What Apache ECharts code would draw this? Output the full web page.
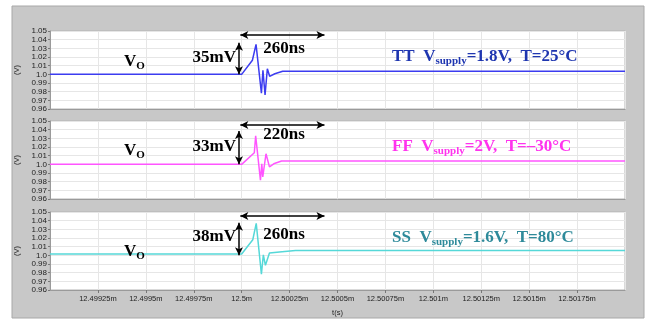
<!DOCTYPE html>
<html>
<head>
<meta charset="utf-8">
<script src="https://cdn.jsdelivr.net/npm/echarts@6/dist/echarts.min.js"></script>
<style>
  html, body { margin: 0; padding: 0; background: #fff; }
  #chart { width: 650px; height: 321px; }
</style>
</head>
<body>
<div id="chart"></div>
<script>
// time in ns relative to 12.5ms, voltage in V
const times1 = [-1000, 0, 56, 75, 103, 111, 122, 134, 146, 173, 214, 2000];
const volts1 = [1.0, 1.0, 1.0163, 1.0345, 0.9782, 1.0047, 0.9763, 1.0065, 0.9977, 1.0007, 1.0035, 1.0035];

const times2 = [-1000, 0, 66, 73, 98, 105, 110, 127, 145, 171, 208, 2000];
const volts2 = [1.0, 1.0, 1.0134, 1.033, 0.9816, 1.0007, 0.9854, 1.0122, 0.997, 1.001, 1.0038, 1.0038];

const times3 = [-1000, 0, 58, 76, 103, 113, 124, 145, 197, 281, 2000];
const volts3 = [1.0015, 1.0015, 1.018, 1.0369, 0.9782, 1.0005, 0.9885, 1.0027, 1.0039, 1.0056, 1.0056];

const cornerNames = ['TT', 'FF', 'SS'];
const supplies = ['1.8V', '2V', '1.6V'];
const temps = ['25°C', '–30°C', '80°C'];
const overshoots = ['35mV', '33mV', '38mV'];
const settleTimes = ['260ns', '220ns', '260ns'];
// arrows: vertical from base to peak, horizontal span (ns)
const arrowLow = [1.0, 1.0, 1.0];
const arrowHigh = [1.0365, 1.0385, 1.0375];
const spanEnd = [432, 432, 432];

const lineColors = ['#3c3cf0', '#ff55ff', '#55d8d8'];
const textColors = ['#1f36b0', '#ff33ee', '#2e8a9a'];

const chart = echarts.init(document.getElementById('chart'));
const serif = '"Times New Roman", "Liberation Serif", serif';
const sans = 'Arial, "Liberation Sans", sans-serif';
const gridTops = [31, 121, 212];
const gridH = 78;

const allTimes = [times1, times2, times3];
const allVolts = [volts1, volts2, volts3];

const fmtTime = v => parseFloat(((12500000 + v) / 1e6).toFixed(6)) + 'm';

const grids = gridTops.map(t => ({
  left: 50, right: 25, top: t, height: gridH,
  show: true, backgroundColor: '#fff', borderColor: '#b4b4b4', borderWidth: 1
}));

const xAxes = gridTops.map((t, i) => ({
  gridIndex: i, type: 'value', min: -1000, max: 2000, interval: 250,
  axisLine: { onZero: false, lineStyle: { color: '#9a9a9a' } },
  axisTick: { show: i === 2, length: 3, lineStyle: { color: '#777' } },
  axisLabel: {
    show: i === 2, fontSize: 7.5, color: '#222', margin: 5, fontFamily: sans,
    showMinLabel: false, showMaxLabel: false, formatter: fmtTime
  },
  splitLine: { show: true, lineStyle: { color: '#e6e6e6' } },
  name: i === 2 ? 't(s)' : '', nameLocation: 'middle', nameGap: 19,
  nameTextStyle: { fontSize: 7.5, color: '#222', fontFamily: sans }
}));

const yAxes = gridTops.map((t, i) => ({
  gridIndex: i, type: 'value', min: 0.96, max: 1.05, interval: 0.01,
  axisLine: { show: true, onZero: false, lineStyle: { color: '#9a9a9a' } },
  axisTick: { show: true, length: 2, lineStyle: { color: '#777' } },
  axisLabel: {
    fontSize: 8, color: '#222', margin: 3, fontFamily: sans,
    formatter: v => Math.abs(v - 1) < 1e-9 ? '1.0' : v.toFixed(2)
  },
  splitLine: { show: true, lineStyle: { color: '#e6e6e6' } },
  name: '(V)', nameLocation: 'middle', nameGap: 24,
  nameTextStyle: { fontSize: 7.5, color: '#222', fontFamily: sans }
}));

const arrowStyle = { color: '#000', width: 1.5, type: 'solid' };

const series = allTimes.map((ts, i) => ({
  type: 'line', xAxisIndex: i, yAxisIndex: i,
  data: ts.map((t, k) => [t, allVolts[i][k]]),
  showSymbol: false, lineStyle: { color: lineColors[i], width: 1.5 },
  itemStyle: { color: lineColors[i] }, animation: false,
  markLine: {
    silent: true, symbol: ['arrow', 'arrow'], symbolSize: [6, 8],
    lineStyle: arrowStyle, label: { show: false },
    data: [
      [{ coord: [-14, arrowLow[i]] }, { coord: [-14, arrowHigh[i]] }],
      [{ coord: [-7, 1.0455] }, { coord: [spanEnd[i], 1.0455] }]
    ]
  }
}));

// text annotations, offsets relative to each panel top
const textCfg = [
  { vo: 30.5, mv: 27, ns: 18, cond: 26 },
  { vo: 29.5, mv: 26, ns: 14, cond: 26 },
  { vo: 40, mv: 25, ns: 23, cond: 26 }
];

const graphic = [{
  type: 'rect', z: -100, silent: true,
  shape: { x: 12, y: 6, width: 632, height: 312 },
  style: { fill: '#c8c8c8', stroke: '#a8a8a8', lineWidth: 1 }
}];

gridTops.forEach((top, i) => {
  const c = textCfg[i];
  graphic.push({
    type: 'text', x: 124, y: top + c.vo, z: 10,
    style: {
      text: '{v|V}{o|O}', verticalAlign: 'middle', fill: '#000',
      rich: {
        v: { fontSize: 17, fontWeight: 'bold', fontFamily: serif, fill: '#000' },
        o: { fontSize: 11, fontWeight: 'bold', fontFamily: serif, fill: '#000', padding: [9, 0, 0, 0] }
      }
    }
  });
  graphic.push({
    type: 'text', x: 236, y: top + c.mv, z: 10,
    style: {
      text: overshoots[i], align: 'right', verticalAlign: 'middle', fill: '#000',
      fontSize: 17, fontWeight: 'bold', fontFamily: serif
    }
  });
  graphic.push({
    type: 'text', x: 284, y: top + c.ns, z: 10,
    style: {
      text: settleTimes[i], align: 'center', verticalAlign: 'middle', fill: '#000',
      fontSize: 17, fontWeight: 'bold', fontFamily: serif
    }
  });
  graphic.push({
    type: 'text', x: 392, y: top + c.cond, z: 10,
    style: {
      text: '{m|' + cornerNames[i] + '  V}{s|supply}{m|=' + supplies[i] + ',  T=' + temps[i] + '}',
      verticalAlign: 'middle', fill: textColors[i],
      rich: {
        m: { fontSize: 17, fontWeight: 'bold', fontFamily: serif, fill: textColors[i] },
        s: { fontSize: 11, fontWeight: 'bold', fontFamily: serif, fill: textColors[i], padding: [8, 0, 0, 0] }
      }
    }
  });
});

chart.setOption({
  backgroundColor: '#fff',
  animation: false,
  grid: grids,
  xAxis: xAxes,
  yAxis: yAxes,
  series: series,
  graphic: graphic
});
</script>
</body>
</html>
